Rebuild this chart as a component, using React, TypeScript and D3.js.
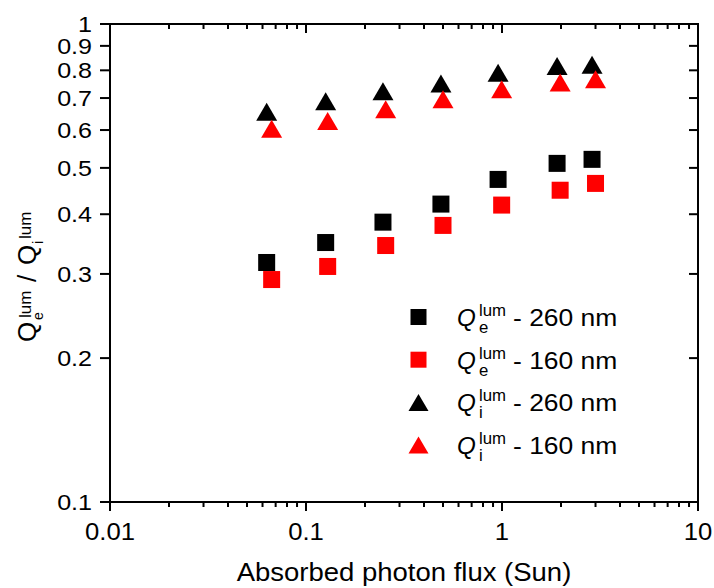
import React from "react";
import * as d3 from "d3";

const x260 = [0.063, 0.126, 0.247, 0.488, 0.955, 1.91, 2.88];
const x160 = [0.0668, 0.129, 0.255, 0.5, 0.996, 1.98, 3.0];
const qe260 = [0.317, 0.349, 0.385, 0.42, 0.473, 0.511, 0.521];
const qe160 = [0.292, 0.311, 0.344, 0.379, 0.418, 0.449, 0.464];
const qi260 = [0.655, 0.689, 0.723, 0.751, 0.791, 0.817, 0.822];
const qi160 = [0.604, 0.627, 0.663, 0.696, 0.73, 0.754, 0.766];

const xMajor = [0.01, 0.1, 1, 10];
const xMajorLabels = ["0.01", "0.1", "1", "10"];
const yTicks = [0.1, 0.2, 0.3, 0.4, 0.5, 0.6, 0.7, 0.8, 0.9, 1];
const yTickLabels = ["0.1", "0.2", "0.3", "0.4", "0.5", "0.6", "0.7", "0.8", "0.9", "1"];

const legendItems = [
  { shape: "square", color: "#000", sub: "e", label: "- 260 nm" },
  { shape: "square", color: "#ff0000", sub: "e", label: "- 160 nm" },
  { shape: "triangle", color: "#000", sub: "i", label: "- 260 nm" },
  { shape: "triangle", color: "#ff0000", sub: "i", label: "- 160 nm" },
];

const FONT = "'Liberation Sans', Arial, sans-serif";

function SText(props: {
  x: number;
  y: number;
  sx?: number;
  size: number;
  anchor?: string;
  dy?: string;
  italic?: boolean;
  children: React.ReactNode;
}) {
  const { x, y, sx = 1, size, anchor = "start", dy, italic, children } = props;
  return (
    <text
      transform={`translate(${x},${y}) scale(${sx},1)`}
      fontSize={size}
      textAnchor={anchor}
      dy={dy}
      fontStyle={italic ? "italic" : undefined}
      fill="#000"
    >
      {children}
    </text>
  );
}

export default function App() {
  const L = 110, R = 698, T = 24, B = 502;
  const x = d3.scaleLog().domain([0.01, 10]).range([L, R]);
  const y = d3.scaleLog().domain([0.1, 1]).range([B, T]);

  const xMinor: number[] = [];
  for (const d of [0.01, 0.1, 1]) {
    for (let k = 2; k <= 9; k++) xMinor.push(+(d * k).toPrecision(3));
  }

  const sq = 17;
  const triW = 21, triH = 18;
  const tri = (cx: number, cy: number, w = triW, h = triH) =>
    `M${cx},${cy - h / 2}L${cx + w / 2},${cy + h / 2}L${cx - w / 2},${cy + h / 2}Z`;

  const series = [
    { xs: x260, ys: qi260, shape: "triangle", color: "#000" },
    { xs: x160, ys: qi160, shape: "triangle", color: "#ff0000" },
    { xs: x260, ys: qe260, shape: "square", color: "#000" },
    { xs: x160, ys: qe160, shape: "square", color: "#ff0000" },
  ];

  const legX = 418.5;
  const legY0 = 326;
  const legDy = 42.7;

  return (
    <svg
      width={714}
      height={588}
      style={{ position: "absolute", left: 0, top: 0, background: "#fff" }}
      fontFamily={FONT}
    >
      <rect x={0} y={0} width={714} height={588} fill="#fff" />
      {series.map((s, si) =>
        s.xs.map((xv, i) =>
          s.shape === "square" ? (
            <rect
              key={`${si}-${i}`}
              x={x(xv) - sq / 2}
              y={y(s.ys[i]) - sq / 2}
              width={sq}
              height={sq}
              fill={s.color}
            />
          ) : (
            <path key={`${si}-${i}`} d={tri(x(xv), y(s.ys[i]))} fill={s.color} />
          )
        )
      )}
      <rect x={L} y={T} width={R - L} height={B - T} fill="none" stroke="#000" strokeWidth={2} />
      {xMajor.map((v) => (
        <g key={`xm${v}`}>
          <line x1={x(v)} x2={x(v)} y1={B} y2={B + 9} stroke="#000" strokeWidth={2} />
          <line x1={x(v)} x2={x(v)} y1={T} y2={T + 9} stroke="#000" strokeWidth={2} />
        </g>
      ))}
      {xMinor.map((v) => (
        <g key={`xn${v}`}>
          <line x1={x(v)} x2={x(v)} y1={B} y2={B + 5} stroke="#000" strokeWidth={2} />
          <line x1={x(v)} x2={x(v)} y1={T} y2={T + 5} stroke="#000" strokeWidth={2} />
        </g>
      ))}
      {xMajor.map((v, i) => (
        <SText key={`xl${v}`} x={x(v)} y={540} size={24} sx={1.07} anchor="middle">
          {xMajorLabels[i]}
        </SText>
      ))}
      {yTicks.map((v, i) => (
        <g key={`y${v}`}>
          <line x1={L - 10} x2={L} y1={y(v)} y2={y(v)} stroke="#000" strokeWidth={2} />
          <line x1={R - 9} x2={R} y1={y(v)} y2={y(v)} stroke="#000" strokeWidth={2} />
          <SText x={92} y={y(v)} dy="0.36em" anchor="end" size={22} sx={1.14}>
            {yTickLabels[i]}
          </SText>
        </g>
      ))}
      <SText x={404} y={581} anchor="middle" size={25} sx={1.1}>
        Absorbed photon flux (Sun)
      </SText>
      <g transform="translate(36,342) rotate(-90)">
        <text x={0} y={0} fontSize={26} fill="#000">Q</text>
        <text x={24} y={-5} fontSize={17} fill="#000">lum</text>
        <text x={22} y={7} fontSize={14} fill="#000">e</text>
        <text x={60} y={0} fontSize={26} fill="#000">/</text>
        <text x={77} y={0} fontSize={26} fill="#000">Q</text>
        <text x={98} y={7} fontSize={14} fill="#000">i</text>
        <text x={103} y={-5} fontSize={17} fill="#000">lum</text>
      </g>
      {legendItems.map((it, i) => {
        const by = legY0 + i * legDy;
        const cy = by - 9;
        return (
          <g key={`leg${i}`}>
            {it.shape === "square" ? (
              <rect x={legX - 8} y={cy - 8} width={16} height={16} fill={it.color} />
            ) : (
              <path d={tri(legX, cy, 20, 17)} fill={it.color} />
            )}
            <SText x={457} y={by} size={23} sx={1.05} italic>Q</SText>
            <SText x={479} y={by - 10} size={16} sx={1.05}>lum</SText>
            <SText x={479} y={by + 7} size={16} sx={1.05}>{it.sub}</SText>
            <SText x={513} y={by} size={23} sx={1.15}>{it.label}</SText>
          </g>
        );
      })}
    </svg>
  );
}
